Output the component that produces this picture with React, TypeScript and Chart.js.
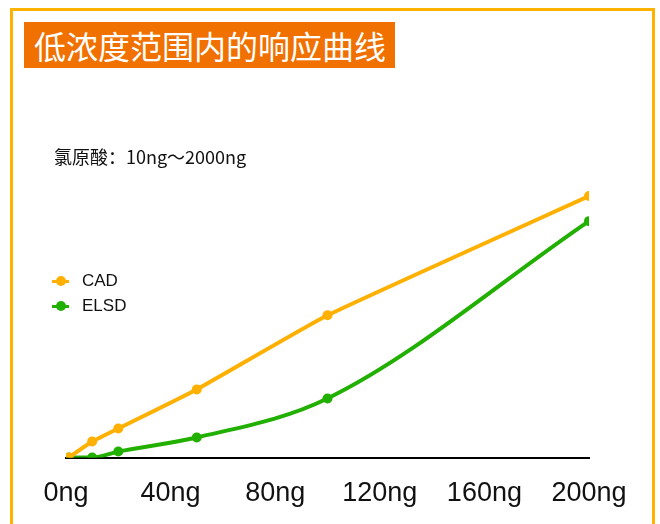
import React, { useEffect, useRef } from "react";
import { Chart, registerables } from "chart.js";

Chart.register(...registerables);

const titleText = "低浓度范围内的响应曲线";
const subtitleText = "氯原酸：10ng～2000ng";
const seriesNames = ["CAD", "ELSD"];
const amounts = [1, 10, 20, 50, 100, 200];
const cadValues = [0, 16, 29, 68, 142, 261];
const elsdValues = [0, 0, 6, 20, 59, 236];
const xTickValues = [0, 40, 80, 120, 160, 200];
const unit = "ng";

const CAD_COLOR = "#FFB000";
const ELSD_COLOR = "#22B000";
const colors = [CAD_COLOR, ELSD_COLOR];

export default function App() {
  const canvasRef = useRef<HTMLCanvasElement | null>(null);

  useEffect(() => {
    const canvas = canvasRef.current;
    if (!canvas) return;
    const chart = new Chart(canvas, {
      type: "line",
      data: {
        datasets: [
          {
            label: seriesNames[0],
            data: amounts.map((x, i) => ({ x, y: cadValues[i] })),
            borderColor: CAD_COLOR,
            backgroundColor: CAD_COLOR,
            borderWidth: 4,
            pointRadius: 5,
            pointBorderWidth: 0,
            tension: 0.12,
          },
          {
            label: seriesNames[1],
            data: amounts.map((x, i) => ({ x, y: elsdValues[i] })),
            borderColor: ELSD_COLOR,
            backgroundColor: ELSD_COLOR,
            borderWidth: 4,
            pointRadius: 5,
            pointBorderWidth: 0,
            cubicInterpolationMode: "monotone",
          },
        ],
      },
      options: {
        animation: false,
        responsive: false,
        maintainAspectRatio: false,
        layout: { padding: { left: 66, right: 71, top: 157, bottom: 20 } },
        plugins: {
          legend: { display: false },
          tooltip: { enabled: false },
          title: { display: false },
        },
        scales: {
          x: {
            type: "linear",
            min: 0,
            max: 200,
            afterBuildTicks: (scale: any) => {
              scale.ticks = xTickValues.map((v) => ({ value: v }));
            },
            grid: { display: false, drawTicks: false },
            border: { display: true, color: "#000", width: 2 },
            ticks: {
              padding: 20,
              color: "#111",
              maxRotation: 0,
              autoSkip: false,
              font: { size: 27, family: "'Liberation Sans', Arial, sans-serif" },
              callback: (v: any) => `${v}${unit}`,
            },
          },
          y: {
            display: false,
            min: 0,
            max: 300,
          },
        },
      },
    });
    return () => chart.destroy();
  }, []);

  return (
    <div>
      <div
        style={{
          position: "fixed",
          left: 10,
          top: 8,
          width: 639,
          height: 560,
          border: "3px solid #FFB300",
          boxSizing: "content-box",
        }}
      />
      <div
        style={{
          position: "fixed",
          left: 24,
          top: 22,
          width: 371,
          height: 46,
          background: "#F07000",
          color: "#fff",
          fontFamily: "'Noto Sans CJK SC', sans-serif",
          fontSize: 32,
          lineHeight: "46px",
          paddingLeft: 10,
          boxSizing: "border-box",
          whiteSpace: "nowrap",
        }}
      >
        {titleText}
      </div>
      <div
        style={{
          position: "fixed",
          left: 54,
          top: 145,
          height: 22,
          lineHeight: "22px",
          fontFamily: "'Noto Sans CJK SC', sans-serif",
          fontSize: 18,
          color: "#111",
          whiteSpace: "nowrap",
        }}
      >
        {subtitleText}
      </div>
      {seriesNames.map((name, i) => (
        <div
          key={name}
          style={{
            position: "fixed",
            left: 52,
            top: 270 + i * 25,
            height: 22,
            display: "flex",
            alignItems: "center",
          }}
        >
          <div style={{ position: "relative", width: 17, height: 22 }}>
            <div
              style={{
                position: "absolute",
                left: 0,
                top: 9.5,
                width: 17,
                height: 3,
                background: colors[i],
              }}
            />
            <div
              style={{
                position: "absolute",
                left: 3.5,
                top: 6,
                width: 10,
                height: 10,
                borderRadius: 5,
                background: colors[i],
              }}
            />
          </div>
          <span
            style={{
              marginLeft: 13,
              fontFamily: "'Liberation Sans', Arial, sans-serif",
              fontSize: 17,
              color: "#111",
              lineHeight: "22px",
            }}
          >
            {name}
          </span>
        </div>
      ))}
      <canvas
        ref={canvasRef}
        width={660}
        height={550}
        style={{ position: "fixed", left: 0, top: 0, width: 660, height: 550 }}
      />
    </div>
  );
}
